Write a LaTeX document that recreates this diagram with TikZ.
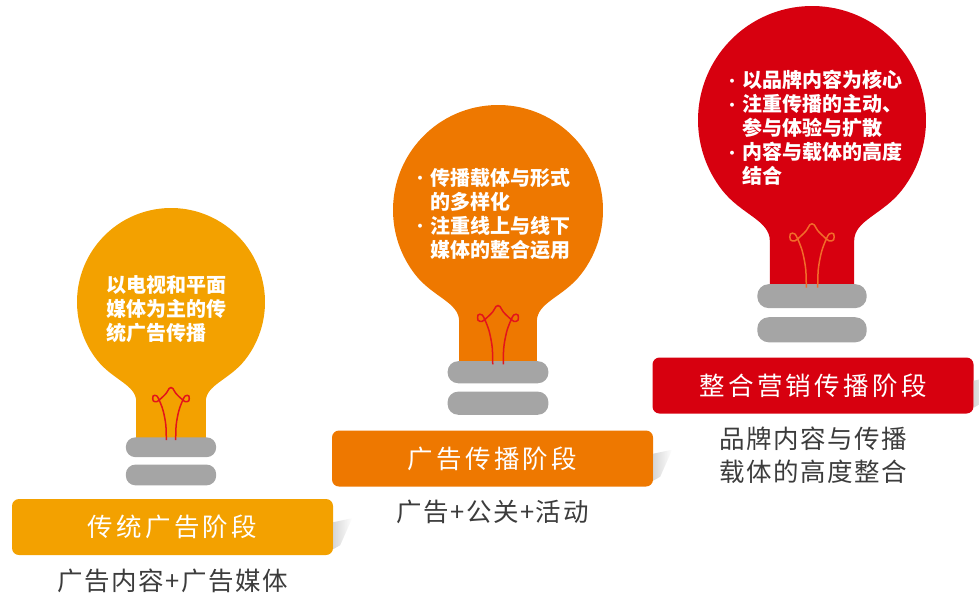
\documentclass[tikz,border=0pt]{standalone}
\usepackage{fontspec}
\usetikzlibrary{positioning}

\newfontfamily\cjk{Noto Sans CJK SC}
\newfontfamily\cjkwide{Noto Sans CJK SC}[LetterSpace=13]
\newfontfamily\cjksub{Noto Sans CJK SC}[LetterSpace=6]

\definecolor{amber}{HTML}{F3A100}
\definecolor{tangerine}{HTML}{EE7800}
\definecolor{brandred}{HTML}{D7000F}
\definecolor{capgray}{HTML}{A5A5A5}
\definecolor{wirered}{HTML}{E3141B}
\definecolor{wireorange}{HTML}{F26B2A}
\definecolor{captext}{HTML}{3C3C3C}

% bullet and hanging indent for the bulb texts
\newcommand\itm{\makebox[20pt][c]{\raisebox{1.5pt}{\fontsize{14}{14}\selectfont •}}}
\newcommand\itmgap{\hspace*{20pt}}

% #1 centre, #2 radius, #3 glass colour, #4 filament colour
\newcommand\drawbulb[4]{%
  \pgfmathsetmacro\ringr{0.1*#2}
  \begin{scope}[shift={#1}, scale=#2, yscale=-1]
    % glass
    \fill[#3] (-38:1) arc[start angle=-38, end angle=218, radius=1]
      .. controls (-0.62,-0.83) and (-0.37,-0.88) .. (-0.37,-1.06)
      -- (-0.37,-1.47) -- (0.37,-1.47) -- (0.37,-1.06)
      .. controls (0.37,-0.88) and (0.62,-0.83) .. (-38:1) -- cycle;
    % screw rings
    \fill[capgray, rounded corners=\ringr pt] (-0.48,-1.44) rectangle (0.48,-1.65);
    \fill[capgray, rounded corners=\ringr pt] (-0.48,-1.73) rectangle (0.48,-1.95);
    % filament
    \begin{scope}[shift={(0,-1.47)}]
      \draw[#4, line width=1.5pt] plot[smooth, tension=0.55] coordinates {
        (-0.05,0.00) (-0.055,0.16) (-0.08,0.30) (-0.11,0.39) (-0.15,0.47)
        (-0.19,0.47) (-0.19,0.42) (-0.15,0.41) (-0.10,0.45) (-0.05,0.50)
        (-0.02,0.55) (0.00,0.56) (0.02,0.55) (0.05,0.50) (0.10,0.45)
        (0.15,0.41) (0.19,0.42) (0.19,0.47) (0.15,0.47) (0.11,0.39)
        (0.08,0.30) (0.055,0.16) (0.05,0.00)};
    \end{scope}
  \end{scope}}

\begin{document}
\begin{tikzpicture}[x=1pt, y=-1pt,
    bulbtext/.style={text=white, font=\cjk\bfseries\fontsize{20}{24}\selectfont,
      align=left, anchor=north west, inner sep=0pt},
    stage/.style={minimum width=321pt, minimum height=56pt, rounded corners=7pt,
      text=white, font=\cjkwide\fontsize{25.5}{30}\selectfont, inner sep=0pt},
    caption/.style={text=captext, font=\cjksub\fontsize{25.5}{33}\selectfont,
      align=center, inner sep=0pt, anchor=north},
    curl/.style={left color=gray!40, right color=white, draw=none, opacity=0.8}]
  \useasboundingbox (0,0) rectangle (979,598);

  % the three bulbs
  \drawbulb{(171,302)}{94}{amber}{wirered}
  \drawbulb{(498,210)}{105}{tangerine}{wirered}
  \drawbulb{(812,120)}{114}{brandred}{wireorange}

  \node[bulbtext] (note1) at (106,275) {以电视和平面\\媒体为主的传\\统广告传播};
  \node[bulbtext] (note2) at (410,168) {\itm 传播载体与形式\\\itmgap 的多样化\\
    \itm 注重线上与线下\\\itmgap 媒体的整合运用};
  \node[bulbtext] (note3) at (722,70) {\itm 以品牌内容为核心\\\itm 注重传播的主动、\\
    \itmgap 参与体验与扩散\\\itm 内容与载体的高度\\\itmgap 结合};

  % stage banners
  \node[stage, fill=amber] (stage1) at (172.5,527) {传统广告阶段};
  \node[stage, fill=tangerine] (stage2) at (492.5,458.5) {广告传播阶段};
  \node[stage, fill=brandred] (stage3) at (813,385.5) {整合营销传播阶段};

  % curled shadows
  \shade[curl] ([yshift=33pt]stage1.south east) -- ([xshift=19pt,yshift=37pt]stage1.south east)
    -- ([xshift=7pt,yshift=10pt]stage1.south east) -- ([yshift=6pt]stage1.south east) -- cycle;
  \shade[curl] ([yshift=33pt]stage2.south east) -- ([xshift=19pt,yshift=37pt]stage2.south east)
    -- ([xshift=7pt,yshift=10pt]stage2.south east) -- ([yshift=6pt]stage2.south east) -- cycle;
  \shade[curl] ([yshift=33pt]stage3.south east) -- ([xshift=19pt,yshift=37pt]stage3.south east)
    -- ([xshift=7pt,yshift=10pt]stage3.south east) -- ([yshift=6pt]stage3.south east) -- cycle;

  \node[caption, below=13pt of stage1] (cap1) {广告内容+广告媒体};
  \node[caption, below=13pt of stage2] (cap2) {广告+公关+活动};
  \node[caption, below=13pt of stage3] (cap3) {品牌内容与传播\\载体的高度整合};
\end{tikzpicture}
\end{document}
